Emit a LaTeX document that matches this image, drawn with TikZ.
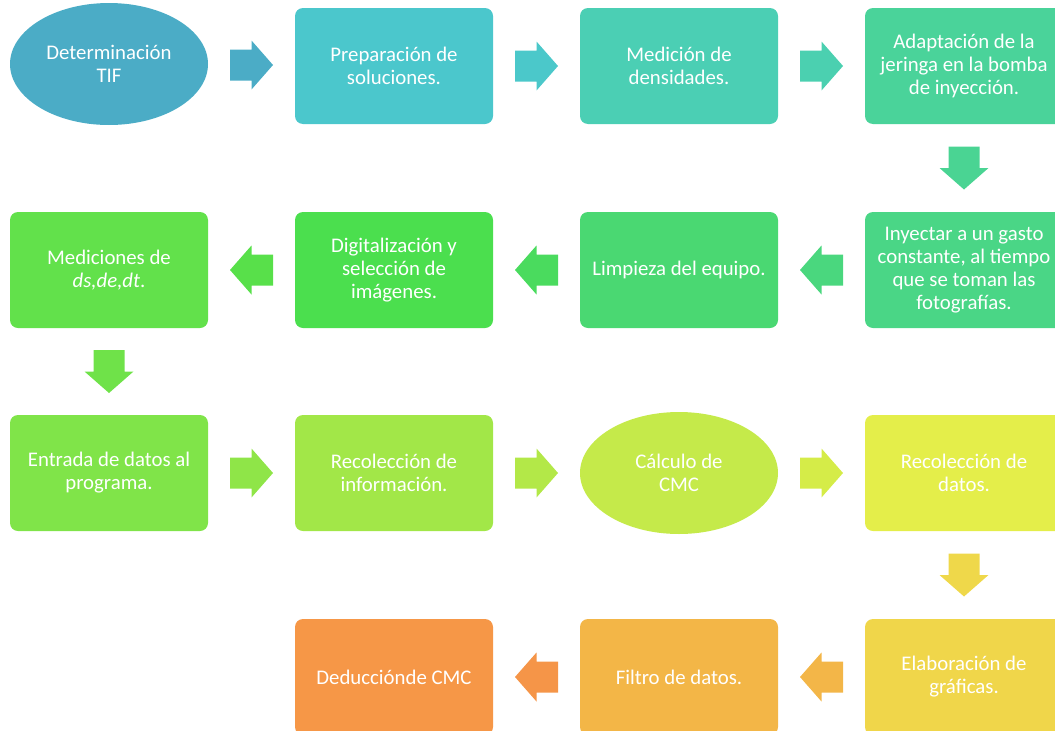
\documentclass[tikz,border=0pt]{standalone}
\usepackage{fontspec}
\setmainfont{Carlito}
\usetikzlibrary{calc,shapes.geometric}

% fill and arrow colours along the flow
\definecolor{c01}{HTML}{4BACC6}
\definecolor{a01}{HTML}{4BACC6}
\definecolor{c02}{HTML}{4BC7CC}
\definecolor{a02}{HTML}{4BC8CA}
\definecolor{c03}{HTML}{4BCFB4}
\definecolor{a03}{HTML}{4BD0B0}
\definecolor{c04}{HTML}{4AD39A}
\definecolor{a04}{HTML}{4AD493}
\definecolor{c05}{HTML}{4AD686}
\definecolor{a05}{HTML}{4AD77E}
\definecolor{c06}{HTML}{4AD872}
\definecolor{a06}{HTML}{4ADB5E}
\definecolor{c07}{HTML}{4BDF4E}
\definecolor{a07}{HTML}{58E04A}
\definecolor{c08}{HTML}{62E14B}
\definecolor{a08}{HTML}{6FE249}
\definecolor{c09}{HTML}{80E449}
\definecolor{a09}{HTML}{8FE548}
\definecolor{c10}{HTML}{A2E748}
\definecolor{a10}{HTML}{B3E848}
\definecolor{c11}{HTML}{C5EA4A}
\definecolor{a11}{HTML}{D5EC48}
\definecolor{c12}{HTML}{E4EE4A}
\definecolor{a12}{HTML}{EFD84A}
\definecolor{c13}{HTML}{F0D64A}
\definecolor{a13}{HTML}{F3B648}
\definecolor{c14}{HTML}{F3B647}
\definecolor{a14}{HTML}{F59548}
\definecolor{c15}{HTML}{F69747}

% block arrow centred between two anchors: colour, from, to, angle
\newcommand\flowarrow[4]{%
  \fill[#1, shift={($(#2)!0.5!(#3)$)}, rotate=#4]
    (-21.5,-15.5) -- (0,-15.5) -- (0,-24.5) -- (21.5,0)
    -- (0,24.5) -- (0,15.5) -- (-21.5,15.5) -- cycle;}

\begin{document}
\begin{tikzpicture}[x=1pt,y=-1pt,
  txt/.style={text=white, align=center, inner sep=0pt,
    font=\fontsize{20.8}{23}\selectfont},
  stepbox/.style={txt, rectangle, rounded corners=8pt,
    minimum width=198pt, minimum height=116pt},
  oval/.style={txt, ellipse, minimum width=198pt, minimum height=122pt}]
\useasboundingbox (0,0) rectangle (1055,731);
\clip (0,0) rectangle (1055,731);

% row 1
\node[oval, fill=c01] (n1) at (109,64) {Determinación\\TIF};
\node[stepbox, fill=c02] (n2) at (394,66) {Preparación de\\soluciones.};
\node[stepbox, fill=c03] (n3) at (679,66) {Medición de\\densidades.};
\node[stepbox, fill=c04] (n4) at (964,66) {Adaptación de la\\jeringa en la bomba\\de inyección.};
% row 2
\node[stepbox, fill=c05] (n5) at (964,270) {Inyectar a un gasto\\constante, al tiempo\\que se toman las\\fotografías.};
\node[stepbox, fill=c06] (n6) at (679,270) {Limpieza del equipo.};
\node[stepbox, fill=c07] (n7) at (394,270) {Digitalización y\\selección de\\imágenes.};
\node[stepbox, fill=c08] (n8) at (109,270) {Mediciones de\\\textit{ds,de,dt}.};
% row 3
\node[stepbox, fill=c09] (n9) at (109,473) {Entrada de datos al\\programa.};
\node[stepbox, fill=c10] (n10) at (394,473) {Recolección de\\información.};
\node[oval, fill=c11] (n11) at (679,473) {Cálculo de\\CMC};
\node[stepbox, fill=c12] (n12) at (964,473) {Recolección de\\datos.};
% row 4
\node[stepbox, fill=c13] (n13) at (964,677) {Elaboración de\\gráficas.};
\node[stepbox, fill=c14] (n14) at (679,677) {Filtro de datos.};
\node[stepbox, fill=c15] (n15) at (394,677) {Deducciónde CMC};

% connectors
\flowarrow{a01}{n1.east}{n2.west}{0}
\flowarrow{a02}{n2.east}{n3.west}{0}
\flowarrow{a03}{n3.east}{n4.west}{0}
\flowarrow{a04}{n4.south}{n5.north}{-90}
\flowarrow{a05}{n5.west}{n6.east}{180}
\flowarrow{a06}{n6.west}{n7.east}{180}
\flowarrow{a07}{n7.west}{n8.east}{180}
\flowarrow{a08}{n8.south}{n9.north}{-90}
\flowarrow{a09}{n9.east}{n10.west}{0}
\flowarrow{a10}{n10.east}{n11.west}{0}
\flowarrow{a11}{n11.east}{n12.west}{0}
\flowarrow{a12}{n12.south}{n13.north}{-90}
\flowarrow{a13}{n13.west}{n14.east}{180}
\flowarrow{a14}{n14.west}{n15.east}{180}
\end{tikzpicture}
\end{document}
